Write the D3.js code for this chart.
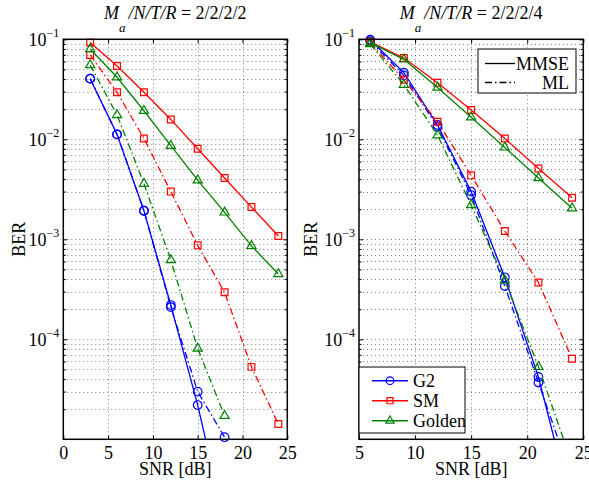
<!DOCTYPE html>
<html>
<head>
<meta charset="utf-8">
<script src="https://cdn.jsdelivr.net/npm/d3@7/dist/d3.min.js"></script>
<style>
  body { margin: 0; background: #fff; }
  svg text { font-family: "Liberation Serif", "Times New Roman", serif; fill: #000; }
</style>
</head>
<body>
<div id="ber-chart"></div>
<script>
// Data (BER vs SNR in dB)
var snrLeft = [3, 6, 9, 12, 15, 18, 21, 24];
var snrRight = [6, 9, 12, 15, 18, 21, 24];

// Ma/N/T/R = 2/2/2/2
var g2MmseLeft = [0.0404, 0.0112, 0.00193, 2.2e-4, 2.2e-5, 1.5e-6];
var g2MlLeft = [0.0404, 0.0112, 0.00193, 2.1e-4, 3.0e-5, 1.05e-5];
var smMmseLeft = [0.093, 0.054, 0.0295, 0.0158, 0.00805, 0.0041, 0.0021, 0.00108];
var smMlLeft = [0.0697, 0.0295, 0.0102, 0.003, 8.7e-4, 2.95e-4, 5.3e-5, 1.42e-5];
var goldenMmseLeft = [0.08, 0.0417, 0.0193, 0.00863, 0.0039, 0.00186, 8.6e-4, 4.5e-4];
var goldenMlLeft = [0.0553, 0.0175, 0.0036, 6.2e-4, 8.1e-5, 1.72e-5];

// Ma/N/T/R = 2/2/2/4
var g2MmseRight = [0.099, 0.0464, 0.0139, 0.003, 4.17e-4, 4.2e-5, 2e-6];
var g2MlRight = [0.096, 0.0436, 0.0133, 0.00277, 3.4e-4, 3.7e-5, 4e-6];
var smMmseRight = [0.0946, 0.065, 0.0368, 0.0196, 0.0102, 0.0051, 0.0026];
var smMlRight = [0.092, 0.0395, 0.015, 0.00436, 0.00121, 3.7e-4, 6.4e-5];
var goldenMmseRight = [0.0925, 0.063, 0.033, 0.0166, 0.0083, 0.0041, 0.00204];
var goldenMlRight = [0.0897, 0.0352, 0.011, 0.0022, 3.9e-4, 5.3e-5, 5.7e-6];

var xTicksLeft = [0, 5, 10, 15, 20, 25];
var xTicksRight = [5, 10, 15, 20, 25];
var yTickExponents = [-1, -2, -3, -4];
var schemes = ["G2", "SM", "Golden"];
var detectors = ["MMSE", "ML"];

var COLORS = { G2: "#0000ff", SM: "#ff0000", Golden: "#008000" };
var SYMBOLS = { G2: d3.symbolCircle, SM: d3.symbolSquare, Golden: d3.symbolTriangle };
var SYMBOL_SIZE = { G2: 58, SM: 46, Golden: 36 };
var DASH = { MMSE: null, ML: "7,3,1.5,3" };

var svg = d3
  .select("#ber-chart")
  .append("svg")
  .attr("width", 589)
  .attr("height", 484);

var pairs = function(xs, ys) {
  return ys.map((v, i) => [xs[i], v]);
};

var crisp = function(v) {
  return Math.round(v) + 0.5;
};

var renderPanel = function(config) {
  var x = d3
    .scaleLinear()
    .domain(config.xDomain)
    .range([config.left, config.right]);
  var y = d3
    .scaleLog()
    .domain([1e-5, 1e-1])
    .range([config.bottom, config.top]);

  var w = config.right - config.left;
  var h = config.bottom - config.top;

  svg
    .append("clipPath")
    .attr("id", "clip-" + config.id)
    .append("rect")
    .attr("x", config.left)
    .attr("y", config.top)
    .attr("width", w)
    .attr("height", h);

  var panel = svg.append("g");

  // Grid (dotted)
  var grid = panel
    .append("g")
    .attr("stroke", "#000")
    .attr("stroke-opacity", 0.5)
    .attr("stroke-width", 1)
    .attr("stroke-dasharray", "1,3");

  grid
    .selectAll(".gx")
    .data(config.xTicks.slice(1, -1))
    .join("line")
    .attr("x1", d => crisp(x(d)))
    .attr("x2", d => crisp(x(d)))
    .attr("y1", config.top)
    .attr("y2", config.bottom);

  var yAll = y.ticks().filter(d => d > 1e-5 && d < 1e-1);
  grid
    .selectAll(".gy")
    .data(yAll)
    .join("line")
    .attr("x1", config.left)
    .attr("x2", config.right)
    .attr("y1", d => crisp(y(d)))
    .attr("y2", d => crisp(y(d)));

  // Axes with inside ticks
  var majorY = yTickExponents.map(e => Math.pow(10, e));
  var minorY = y.ticks().filter(d => majorY.indexOf(d) < 0 && d > 1e-5);

  var xAxis = d3
    .axisBottom(x)
    .tickValues(config.xTicks)
    .tickSize(-4)
    .tickPadding(7)
    .tickFormat(d3.format("d"));

  var xAxisG = panel
    .append("g")
    .attr("transform", "translate(0," + config.bottom + ")")
    .call(xAxis);
  xAxisG.select(".domain").remove();
  xAxisG.attr("font-size", 18).attr("font-family", null);

  panel
    .append("g")
    .attr("transform", "translate(0," + config.top + ")")
    .call(d3.axisTop(x).tickValues(config.xTicks).tickSize(-4).tickFormat(""))
    .select(".domain")
    .remove();

  var yAxisG = panel
    .append("g")
    .attr("transform", "translate(" + config.left + ",0)")
    .call(
      d3
        .axisLeft(y)
        .tickValues(majorY)
        .tickSize(-4)
        .tickPadding(4)
    );
  yAxisG.select(".domain").remove();
  yAxisG.attr("font-size", 18).attr("font-family", null);
  yAxisG.selectAll(".tick text").each(function(d) {
    var t = d3.select(this).text("");
    t.append("tspan").text("10");
    t.append("tspan")
      .attr("dy", -8.5)
      .attr("font-size", 12)
      .text("\u2212" + Math.round(-Math.log10(d)));
  });

  panel
    .append("g")
    .attr("transform", "translate(" + config.left + ",0)")
    .call(d3.axisLeft(y).tickValues(minorY).tickSize(-2.5).tickFormat(""))
    .select(".domain")
    .remove();

  panel
    .append("g")
    .attr("transform", "translate(" + config.right + ",0)")
    .call(d3.axisRight(y).tickValues(majorY).tickSize(-4).tickFormat(""))
    .select(".domain")
    .remove();

  panel
    .append("g")
    .attr("transform", "translate(" + config.right + ",0)")
    .call(d3.axisRight(y).tickValues(minorY).tickSize(-2.5).tickFormat(""))
    .select(".domain")
    .remove();

  // Curves
  var line = d3
    .line()
    .x(d => x(d[0]))
    .y(d => y(d[1]));

  var curves = panel.append("g");

  config.series.forEach(function(s) {
    var pts = pairs(config.snr, s.values);

    curves
      .append("path")
      .attr("d", line(pts))
      .attr("clip-path", "url(#clip-" + config.id + ")")
      .attr("fill", "none")
      .attr("stroke", COLORS[s.scheme])
      .attr("stroke-width", 1.3)
      .attr("stroke-dasharray", DASH[s.detector]);

    curves
      .selectAll(null)
      .data(pts.filter(d => d[1] >= 1e-5 && d[1] <= 1e-1 * 1.02))
      .join("path")
      .attr("transform", d => "translate(" + x(d[0]) + "," + y(d[1]) + ")")
      .attr(
        "d",
        d3.symbol().type(SYMBOLS[s.scheme]).size(SYMBOL_SIZE[s.scheme])
      )
      .attr("fill", "none")
      .attr("stroke", COLORS[s.scheme])
      .attr("stroke-width", 1.2);
  });

  // Box
  panel
    .append("rect")
    .attr("x", config.left)
    .attr("y", config.top)
    .attr("width", w)
    .attr("height", h)
    .attr("fill", "none")
    .attr("stroke", "#000")
    .attr("stroke-width", 1.5);

  // Labels
  var cx = (config.left + config.right) / 2;

  panel
    .append("text")
    .attr("x", cx)
    .attr("y", 475)
    .attr("text-anchor", "middle")
    .attr("font-size", 18)
    .text("SNR [dB]");

  panel
    .append("text")
    .attr("transform", "translate(" + config.yLabelX + "," + (config.top + h / 2) + ") rotate(-90)")
    .attr("text-anchor", "middle")
    .attr("font-size", 18)
    .text("BER");

  var title = panel
    .append("text")
    .attr("x", cx)
    .attr("y", 19)
    .attr("text-anchor", "middle")
    .attr("font-size", 18);
  title.append("tspan").attr("font-style", "italic").text("M");
  title
    .append("tspan")
    .attr("font-style", "italic")
    .attr("font-size", 13)
    .attr("dy", 13)
    .text("a");
  title
    .append("tspan")
    .attr("font-style", "italic")
    .attr("dy", -13)
    .attr("dx", 3)
    .text("/N/T/R");
  title.append("tspan").text(" = " + config.title);

  return { x, y, panel };
};

var buildSeries = function(set) {
  var out = [];
  schemes.forEach(function(sc) {
    detectors.forEach(function(det) {
      out.push({ scheme: sc, detector: det, values: set[sc + det] });
    });
  });
  return out;
};

renderPanel({
  id: "left",
  left: 63.3,
  right: 287.3,
  top: 39.3,
  bottom: 439.3,
  yLabelX: 25,
  xDomain: [0, 25],
  xTicks: xTicksLeft,
  snr: snrLeft,
  title: "2/2/2/2",
  series: buildSeries({
    G2MMSE: g2MmseLeft,
    G2ML: g2MlLeft,
    SMMMSE: smMmseLeft,
    SMML: smMlLeft,
    GoldenMMSE: goldenMmseLeft,
    GoldenML: goldenMlLeft
  })
});

renderPanel({
  id: "right",
  left: 359,
  right: 583.3,
  top: 39.3,
  bottom: 439.3,
  yLabelX: 317,
  xDomain: [5, 25],
  xTicks: xTicksRight,
  snr: snrRight,
  title: "2/2/2/4",
  series: buildSeries({
    G2MMSE: g2MmseRight,
    G2ML: g2MlRight,
    SMMMSE: smMmseRight,
    SMML: smMlRight,
    GoldenMMSE: goldenMmseRight,
    GoldenML: goldenMlRight
  })
});

// Legend: detector line styles
var legendDet = svg.append("g").attr("transform", "translate(478,49)");
legendDet
  .append("rect")
  .attr("width", 98)
  .attr("height", 44)
  .attr("fill", "#fff")
  .attr("stroke", "#000")
  .attr("stroke-width", 1);

var detItems = legendDet
  .selectAll(".det")
  .data(detectors)
  .join("g")
  .attr("transform", (d, i) => "translate(0," + (14.5 + i * 19) + ")");

detItems
  .append("line")
  .attr("x1", 7)
  .attr("x2", 37)
  .attr("stroke", "#000")
  .attr("stroke-width", 1.3)
  .attr("stroke-dasharray", d => DASH[d]);

detItems
  .append("text")
  .attr("x", 91)
  .attr("y", 6.5)
  .attr("text-anchor", "end")
  .attr("font-size", 18)
  .text(d => d);

// Legend: schemes
var legendScheme = svg.append("g").attr("transform", "translate(359,367)");
legendScheme
  .append("rect")
  .attr("width", 106)
  .attr("height", 66)
  .attr("fill", "#fff")
  .attr("stroke", "#000")
  .attr("stroke-width", 1);

var schemeItems = legendScheme
  .selectAll(".scheme")
  .data(schemes)
  .join("g")
  .attr("transform", (d, i) => "translate(0," + (13.7 + i * 20) + ")");

schemeItems
  .append("line")
  .attr("x1", 13)
  .attr("x2", 49)
  .attr("stroke", d => COLORS[d])
  .attr("stroke-width", 1.6);

schemeItems
  .append("path")
  .attr("transform", "translate(31,0)")
  .attr("d", d => d3.symbol().type(SYMBOLS[d]).size(SYMBOL_SIZE[d] * 0.8)())
  .attr("fill", "none")
  .attr("stroke", d => COLORS[d])
  .attr("stroke-width", 1.2);

schemeItems
  .append("text")
  .attr("x", 54)
  .attr("y", 6.5)
  .attr("font-size", 18)
  .text(d => d);
</script>
</body>
</html>
